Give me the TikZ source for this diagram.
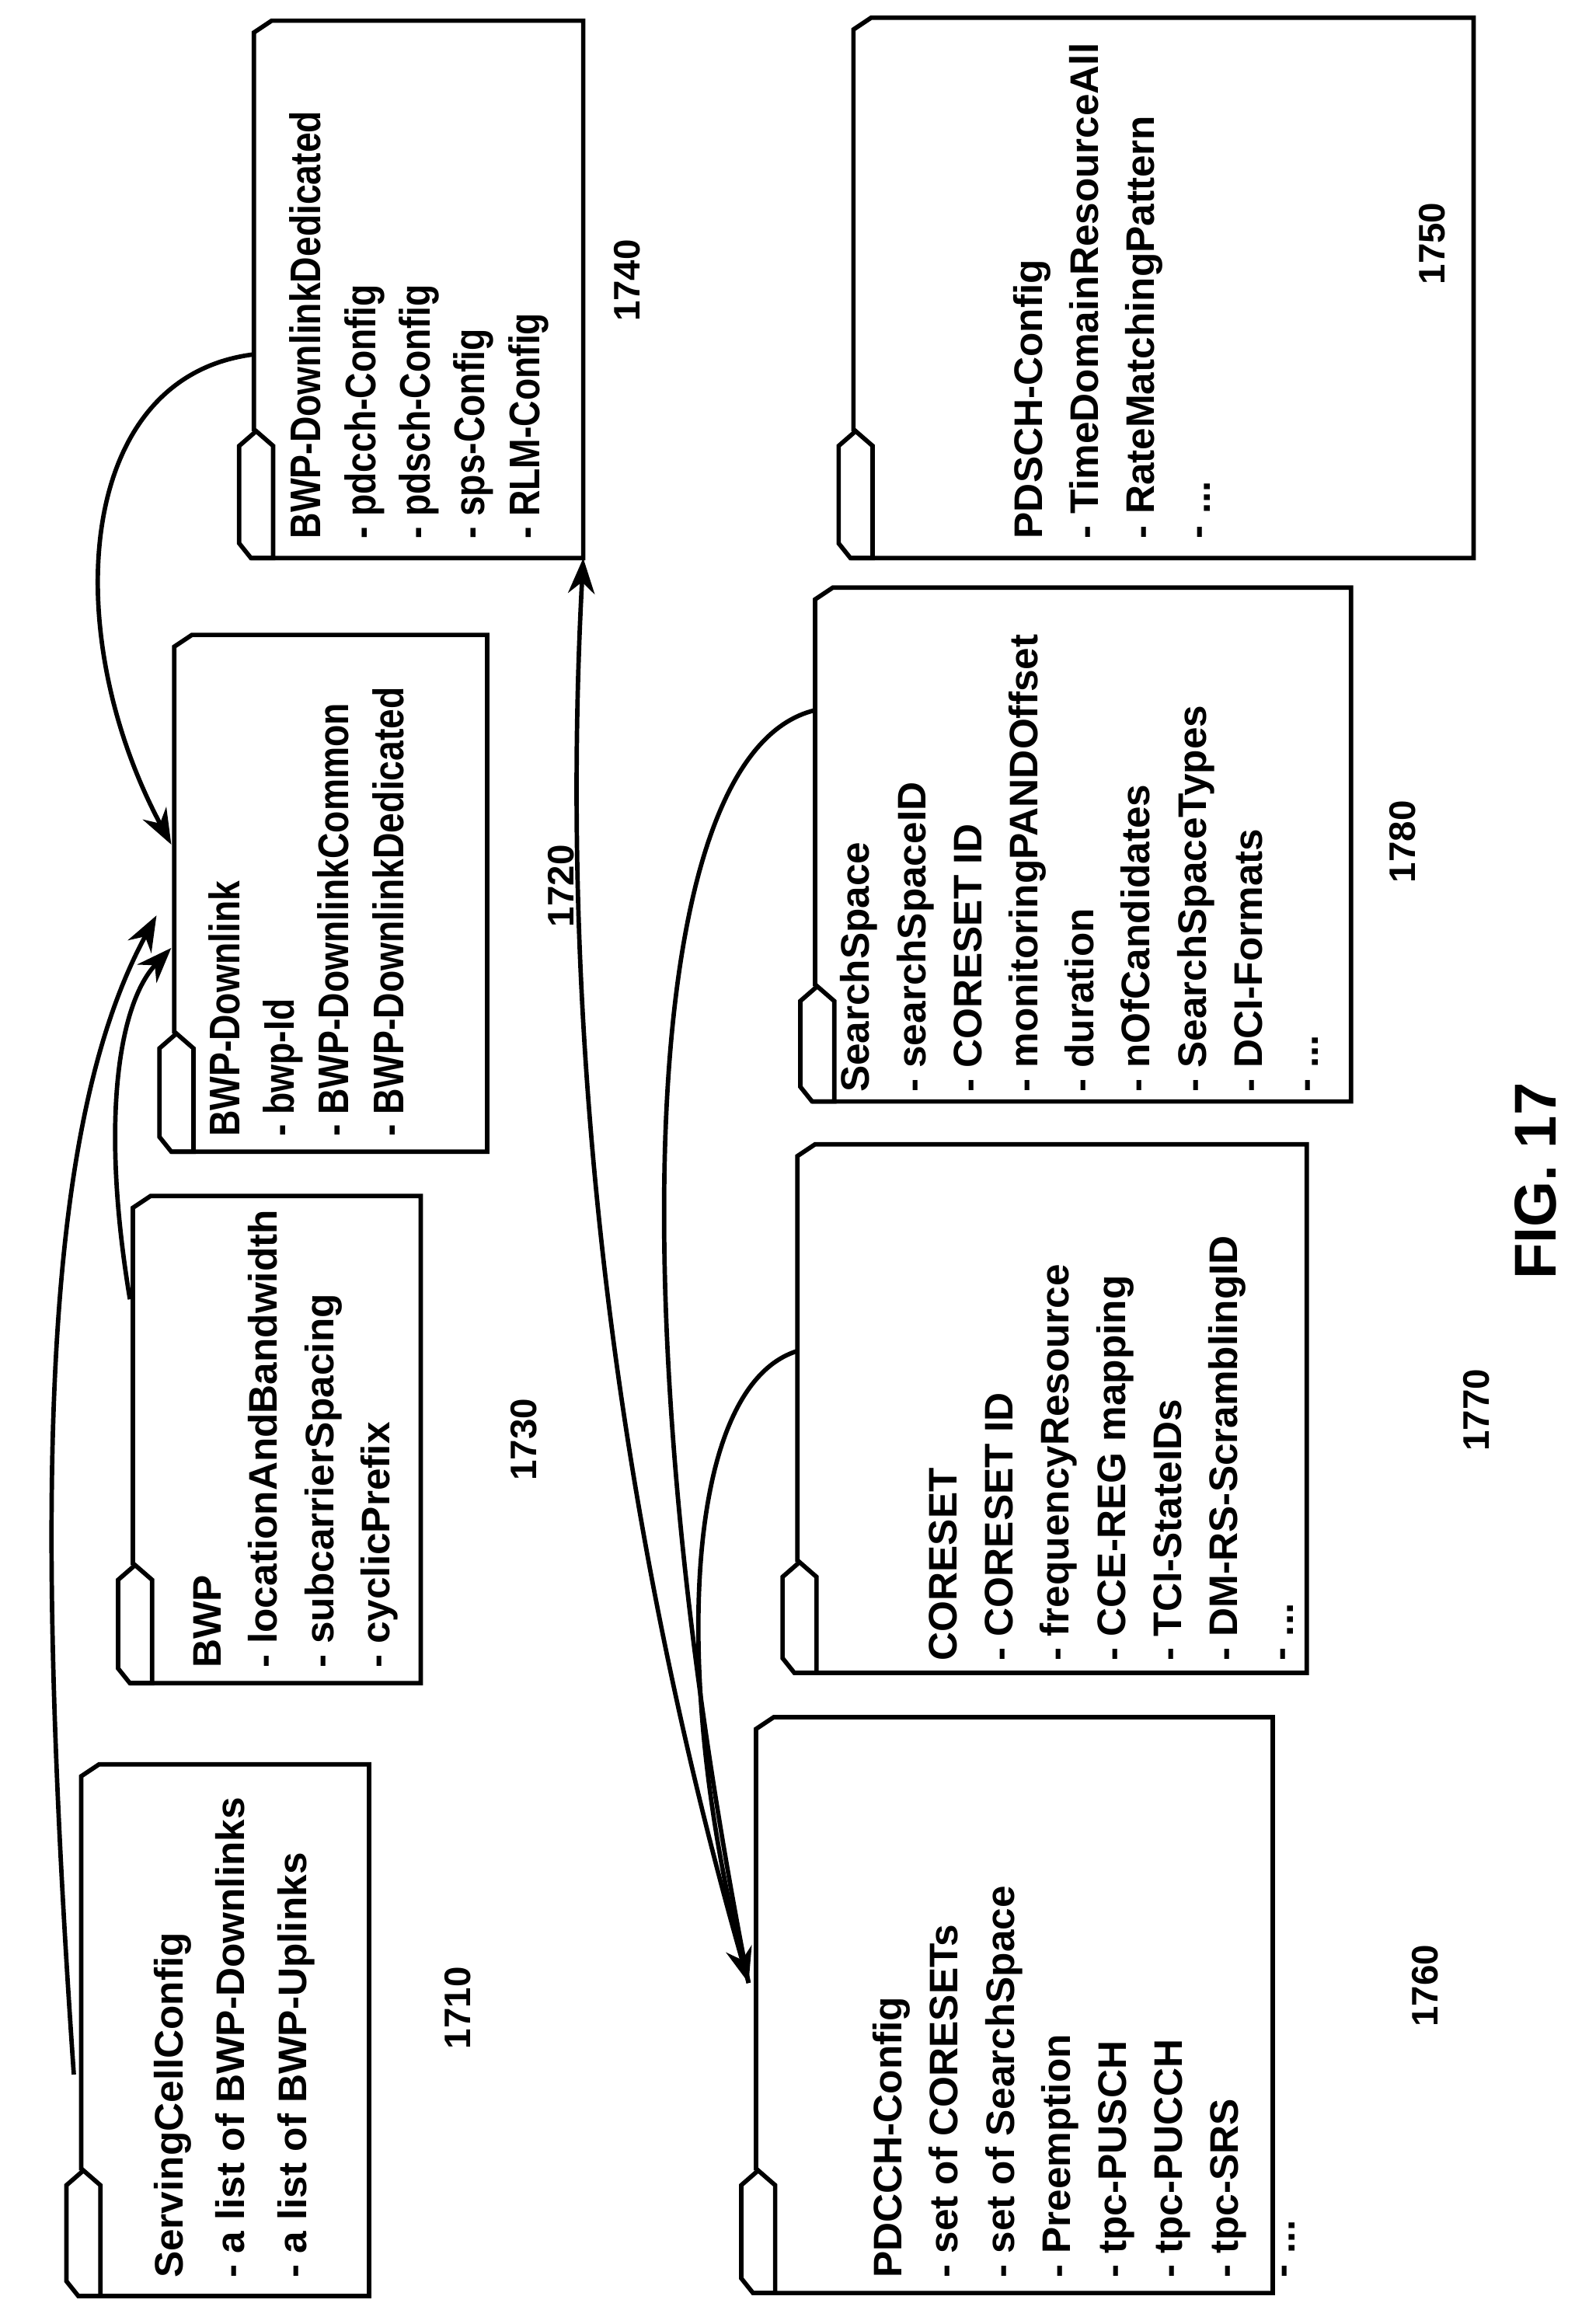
\documentclass[tikz,border=0pt]{standalone}
\usepackage{fontspec}
\setmainfont{Liberation Sans}[BoldFont={Liberation Sans Bold}]
\newfontfamily\condf[FakeStretch=0.84]{Liberation Sans Bold}
\usetikzlibrary{arrows.meta}
\begin{document}
\begin{tikzpicture}[x=1pt,y=-1pt,
  bx/.style={line width=3pt,line join=miter},
  txt/.style={rotate=90,anchor=north west,inner sep=0pt,align=left,font=\fontsize{27}{38}\selectfont\bfseries},
  ctxt/.style={txt,font=\fontsize{29}{37}\condf},
  lab/.style={rotate=90,inner sep=0pt,font=\fontsize{25}{28}\selectfont\bfseries},
  arr/.style={line width=3pt,-{Stealth[length=24pt,width=18pt]}},
  ln/.style={line width=3pt}]
\useasboundingbox (0,0) rectangle (1071,1574);
\newcommand{\dbox}[6]{% name L T R B tabtop
  \draw[bx] (#2,#6) -- (#2,#3+8) -- (#2+12,#3) -- (#4,#3) -- (#4,#5) -- (#2-2,#5);
  \draw[bx] (#2+13,#5) -- (#2+13,#6+10) -- (#2+1.5,#6) -- (#2-10,#6+10) -- (#2-10,#5-10) -- (#2-2,#5) -- cycle;
  \coordinate (#1-nw) at (#2,#3); \coordinate (#1-se) at (#4,#5);}
\dbox{b1740}{172}{14}{395}{378}{292}
\dbox{b1720}{118}{430}{330}{780}{700}
\dbox{b1730}{90}{810}{285}{1140}{1060}
\dbox{b1710}{55}{1195}{250}{1555}{1470}
\dbox{b1750}{578}{12}{998}{378}{292}
\dbox{b1780}{552}{398}{915}{746}{668}
\dbox{b1770}{540}{775}{885}{1133}{1058}
\dbox{b1760}{512}{1163}{862}{1553}{1470}
\node[ctxt] (t1740) at (196,365) {BWP-DownlinkDedicated\\- pdcch-Config\\- pdsch-Config\\- sps-Config\\- RLM-Config};
\node[ctxt] (t1720) at (141,770) {BWP-Downlink\\- bwp-Id\\- BWP-DownlinkCommon\\- BWP-DownlinkDedicated};
\node[txt] (t1730) at (131,1130) {BWP\\- locationAndBandwidth\\- subcarrierSpacing\\- cyclicPrefix};
\node[txt,font=\fontsize{27}{42}\selectfont\bfseries] (t1710) at (104,1543) {ServingCellConfig\\- a list of BWP-Downlinks\\- a list of BWP-Uplinks};
\node[txt] (t1750) at (686,365) {PDSCH-Config\\- TimeDomainResourceAll\\- RateMatchingPattern\\- ...};
\node[txt] (t1780) at (569,740) {SearchSpace\\- searchSpaceID\\- CORESET ID\\- monitoringPANDOffset\\- duration\\- nOfCandidates\\- SearchSpaceTypes\\- DCI-Formats\\- ...};
\node[txt] (t1770) at (629,1125) {CORESET\\- CORESET ID\\- frequencyResource\\- CCE-REG mapping\\- TCI-StateIDs\\- DM-RS-ScramblingID\\- ...};
\node[txt] (t1760) at (591,1543) {PDCCH-Config\\- set of CORESETs\\- set of SearchSpace\\- Preemption\\- tpc-PUSCH\\- tpc-PUCCH\\- tpc-SRS\\- ...};
\node[lab] (l1710) at (310,1360) {1710};
\node[lab] (l1730) at (355,975) {1730};
\node[lab] (l1720) at (380,600) {1720};
\node[lab] (l1740) at (425,190) {1740};
\node[lab] (l1750) at (970,165) {1750};
\node[lab] (l1780) at (950,570) {1780};
\node[lab] (l1770) at (1000,955) {1770};
\node[lab] (l1760) at (965,1345) {1760};
\node[lab,font=\fontsize{40}{44}\selectfont\bfseries] (fig) at (1040,800) {FIG. 17};
\coordinate (a1s) at (50,1405); \coordinate (a1e) at (106,620);
\coordinate (a2s) at (88,880); \coordinate (a2e) at (116,642);
\coordinate (a3s) at (172,240); \coordinate (a3e) at (116,572);
\coordinate (c1740) at (395,378); \coordinate (c1760) at (507,1343);
\coordinate (s1780) at (552,481); \coordinate (s1770) at (540,915);
\draw[arr] (a1s) .. controls (22,1000) and (30,760) .. (a1e);
\draw[arr] (a2s) .. controls (68,760) and (80,680) .. (a2e);
\draw[arr] (a3s) .. controls (50,255) and (40,430) .. (a3e);
\draw[line width=3pt,{Stealth[length=24pt,width=18pt]}-{Stealth[length=24pt,width=18pt]}] (c1740) .. controls (378,700) and (415,1020) .. (c1760);
\draw[ln] (s1780) .. controls (430,510) and (420,900) .. (c1760);
\draw[ln] (s1770) .. controls (460,940) and (455,1150) .. (c1760);
\end{tikzpicture}
\end{document}
